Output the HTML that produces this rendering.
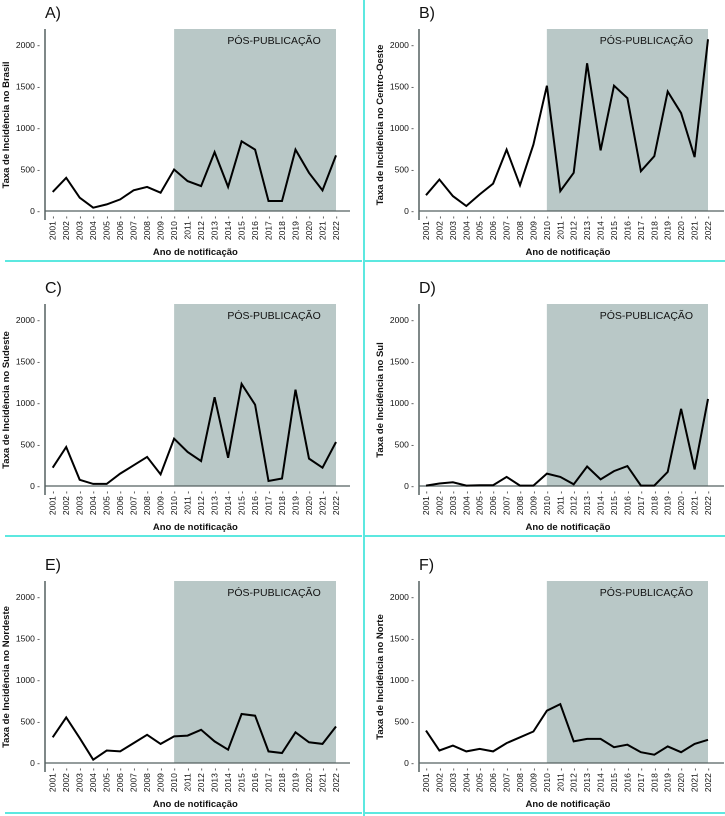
<!DOCTYPE html>
<html><head><meta charset="utf-8"><style>
html,body{margin:0;padding:0;background:#fff;}
svg{display:block;font-family:"Liberation Sans",sans-serif;}
</style></head><body>
<svg id="fig" width="725" height="816" viewBox="0 0 725 816" xmlns="http://www.w3.org/2000/svg"></svg>
<script>
const years = ["2001","2002","2003","2004","2005","2006","2007","2008","2009","2010","2011","2012","2013","2014","2015","2016","2017","2018","2019","2020","2021","2022"];
const yTicks = [0,500,1000,1500,2000];
const shadeStart = "2010";
const seriesBrasil = [230,400,160,40,80,140,250,290,220,500,360,300,710,290,840,740,120,120,740,460,250,670];
const seriesCentroOeste = [190,380,180,60,200,330,740,310,800,1510,240,460,1780,730,1510,1360,480,660,1440,1180,650,2070];
const seriesSudeste = [220,470,75,25,25,150,250,350,140,570,410,300,1070,340,1230,980,60,90,1160,330,220,530];
const seriesSul = [5,30,45,5,10,10,110,5,5,150,110,20,235,80,180,240,5,5,170,930,200,1050];
const seriesNordeste = [310,550,300,40,150,140,240,340,230,320,330,400,260,160,590,570,140,120,370,250,230,440];
const seriesNorte = [390,150,210,140,170,140,240,310,380,630,710,260,290,290,190,220,130,100,200,130,230,280];

const NS="http://www.w3.org/2000/svg";
const svg=document.getElementById('fig');
function mk(tag,attrs,parent){const e=document.createElementNS(NS,tag);for(const k in attrs)e.setAttribute(k,attrs[k]);(parent||svg).appendChild(e);return e;}

const panels=[
 {label:"A)",ytitle:"Taxa de Incidência no Brasil",data:seriesBrasil,col:0,row:0,name:"brasil"},
 {label:"B)",ytitle:"Taxa de Incidência no Centro-Oeste",data:seriesCentroOeste,col:1,row:0,name:"centro-oeste"},
 {label:"C)",ytitle:"Taxa de Incidência no Sudeste",data:seriesSudeste,col:0,row:1,name:"sudeste"},
 {label:"D)",ytitle:"Taxa de Incidência no Sul",data:seriesSul,col:1,row:1,name:"sul"},
 {label:"E)",ytitle:"Taxa de Incidência no Nordeste",data:seriesNordeste,col:0,row:2,name:"nordeste"},
 {label:"F)",ytitle:"Taxa de Incidência no Norte",data:seriesNorte,col:1,row:2,name:"norte"}
];
const rowOff=[0,275,552];
const colGeo=[{axis:45,x0:52.7,x1:336,right:350,cyanL:5,cyanR:362,lab:45},{axis:419,x0:426,x1:708,right:724,cyanL:364,cyanR:725,lab:419}];

panels.forEach(p=>{
 const g=mk('g',{});
 
 
 const c=colGeo[p.col], oy=rowOff[p.row];
 const top=29+oy, y0=211+oy, y2000=45+oy;
 const ys=v=>y0-(v/2000)*(y0-y2000);
 const xs=i=>c.x0+i*(c.x1-c.x0)/(years.length-1);
 const si=years.indexOf(shadeStart);
 const sh=mk('rect',{x:xs(si),y:top,width:xs(years.length-1)-xs(si),height:y0-top,fill:'#b9c8c7'},g);
 
 
 const st=mk('text',{x:(xs(si)+xs(years.length-1))/2+19,y:top+15,'font-size':'10.5','text-anchor':'middle',fill:'#111'},g);
 st.textContent='PÓS-PUBLICAÇÃO';
 
 
 const pl=mk('text',{x:c.lab,y:18+oy,'font-size':'16',fill:'#111'},g);
 pl.textContent=p.label;
 
 
 const ya=mk('line',{x1:c.axis,y1:top,x2:c.axis,y2:220+oy,stroke:'#556060','stroke-width':'1.5'},g);
 
 
 const xa=mk('line',{x1:c.axis,y1:y0,x2:c.right,y2:y0,stroke:'#556060','stroke-width':'1.3'},g);
 
 
 yTicks.forEach(t=>{
  const tt=mk('text',{x:c.axis-5,y:ys(t)+3,'font-size':'8.5','text-anchor':'end',fill:'#111'},g);
  tt.textContent=t+' -';
  
  
 });
 years.forEach((yr,i)=>{
  const tx=mk('text',{transform:`translate(${xs(i)+3},${y0+5}) rotate(-90)`,'font-size':'8.5','text-anchor':'end',fill:'#111'},g);
  tx.textContent=yr+' -';
  
  
 });
 const xt=mk('text',{x:(c.x0+c.x1)/2+1,y:255+oy,'font-size':'9.5','font-weight':'bold','text-anchor':'middle',fill:'#111'},g);
 xt.textContent='Ano de notificação';
 
 
 const ytx=mk('text',{transform:`translate(${c.axis-36},${(top+y0)/2+5}) rotate(-90)`,'font-size':'9.5','font-weight':'bold','text-anchor':'middle',fill:'#111'},g);
 ytx.textContent=p.ytitle;
 
 
 const pts=p.data.map((v,i)=>xs(i).toFixed(1)+','+ys(v).toFixed(1)).join(' ');
 const ln=mk('polyline',{points:pts,fill:'none',stroke:'#000','stroke-width':'2','stroke-linejoin':'miter'},g);
 
 
 const cy=mk('line',{x1:c.cyanL,y1:oy+261,x2:c.cyanR,y2:oy+261,stroke:'#5ce8e0','stroke-width':'2'},g);
 
 
});
const vs=mk('line',{x1:364,y1:0,x2:364,y2:816,stroke:'#5ce8e0','stroke-width':'2'});


</script>
</body></html>
